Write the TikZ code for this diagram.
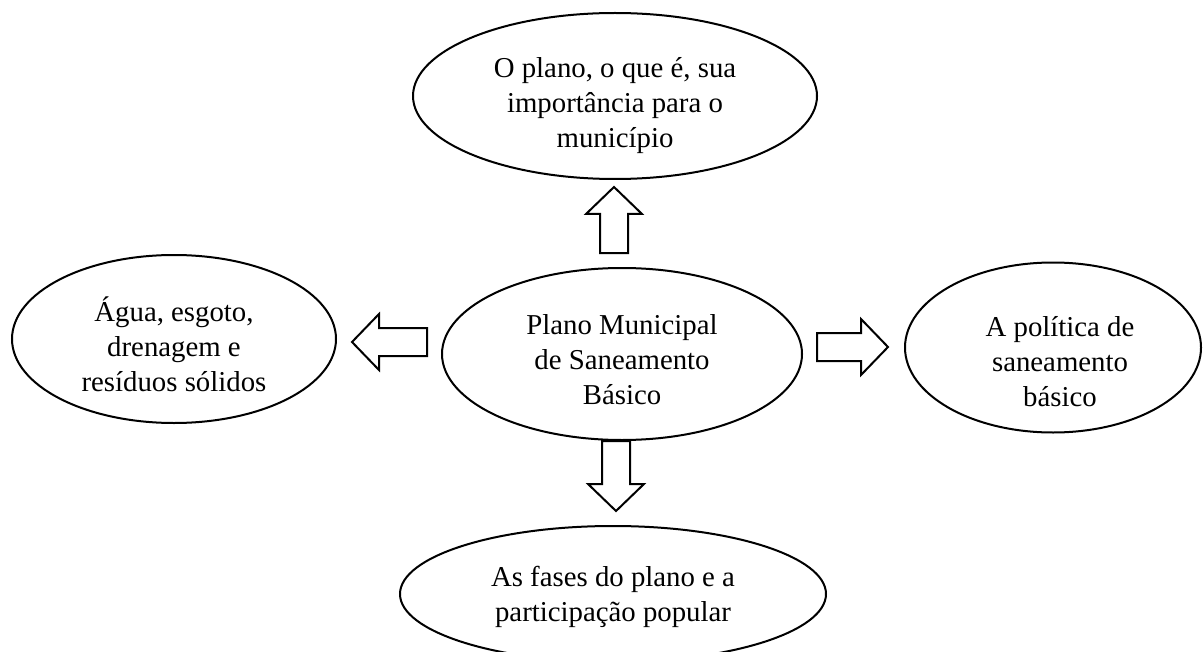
\documentclass[tikz,border=0pt]{standalone}
\usepackage{fontspec}
\setmainfont{Liberation Serif}
\usetikzlibrary{shapes.geometric}
\begin{document}
\begin{tikzpicture}[x=0.5pt,y=-0.5pt,
  ellip/.style={draw, line width=1pt, ellipse, inner sep=0pt},
  txt/.style={align=center, font=\fontsize{14.4}{17.5}\selectfont, inner sep=0pt},
  barrow/.style={draw, line width=1pt, line join=miter},
  pics/blockarr/.style={code={
    \draw[barrow] (0,-14) -- ({#1-27},-14) -- ({#1-27},-28) -- (#1,0)
      -- ({#1-27},28) -- ({#1-27},14) -- (0,14) -- cycle;}}]
\useasboundingbox (0,0) rectangle (1203,652);
\clip (0,0) rectangle (1203,652);

\node[ellip, minimum width=202pt, minimum height=83pt,
  label={[txt, yshift=-5pt]center:{O plano, o que é, sua\\importância para o\\município}}] (top) at (615,96) {};
\node[ellip, minimum width=180pt, minimum height=86pt,
  label={[txt, yshift=-3pt]center:{Plano Municipal\\de Saneamento\\Básico}}] (mid) at (622,354) {};
\node[ellip, minimum width=162pt, minimum height=84pt,
  label={[txt, yshift=-2.5pt]center:{Água, esgoto,\\drenagem e\\resíduos sólidos}}] (left) at (174,339) {};
\node[ellip, minimum width=148pt, minimum height=85pt,
  label={[txt, yshift=-7pt, xshift=3.5pt]center:{A política de\\saneamento\\básico}}] (right) at (1053,347.5) {};
\node[ellip, minimum width=213pt, minimum height=68pt,
  label={[txt, yshift=-1.5pt]center:{As fases do plano e a\\participação popular}}] (bot) at (613,594) {};

\coordinate (aU) at (614,253);
\coordinate (aL) at (427,342);
\coordinate (aR) at (817,347);
\coordinate (aD) at (616,441);
\pic[rotate=90] at (aU) {blockarr=66};
\pic[rotate=180] at (aL) {blockarr=75};
\pic at (aR) {blockarr=71};
\pic[rotate=-90] at (aD) {blockarr=70};
\end{tikzpicture}
\end{document}
